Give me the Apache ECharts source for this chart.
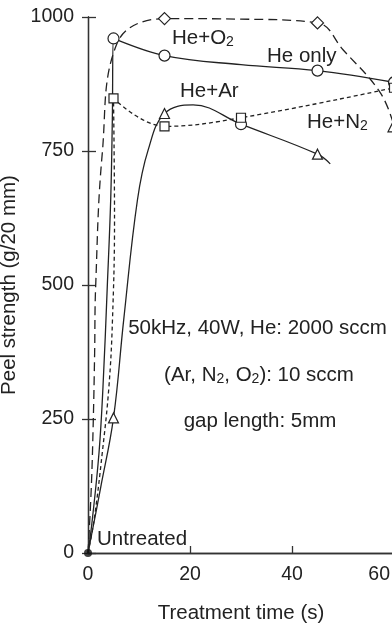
<!DOCTYPE html>
<html>
<head>
<meta charset="utf-8">
<script src="https://cdn.jsdelivr.net/npm/echarts@6/dist/echarts.min.js"></script>
<style>
html,body{margin:0;padding:0;background:#fff;}
#c{width:392px;height:628px;}
</style>
</head>
<body>
<div id="c"></div>
<script>
// ---- data (time s, peel strength g/20mm) ----
const timeTicks = [0, 20, 40, 60];
const peelTicks = [0, 250, 500, 750, 1000];

// curve points
const heOnly = [[0,0],[0.84,62],[2.16,187],[2.94,310],[3.78,497],[4.45,659],[4.77,808],[5,960],[15,928],[30,911],[45,900],[60,878]];
const heOnlyMarked = [5, 15, 45, 60];

const heAr = [[0,0],[2.5,123],[5,252],[7,435],[9.7,659],[11.8,752],[15,820],[20.6,836],[30,800],[45,744],[47.5,726]];
const heArMarked = [5, 15, 30, 45];
const heArCircleAt = [30];

const heN2 = [[0,0],[1.2,62],[2.8,187],[4.1,310],[4.8,435],[5.2,621],[5,848],[15,796],[30,812],[60,868]];
const heN2Marked = [5, 15, 30, 60];

const heO2 = [[0,0],[0.65,123],[1.04,249],[1.3,373],[1.5,497],[2.8,746],[5.7,951],[15,997],[30,996],[45,989],[50,939],[57.3,859],[60,797]];
const heO2Marked = [15, 45, 60];
const heO2TriangleAt = [60];

const untreated = [[0, 0]];

const seriesLabels = ['He+O{s|2}', 'He only', 'He+Ar', 'He+N{s|2}'];
const conditionLines = ['50kHz, 40W, He: 2000 sccm', '(Ar, N{s|2}, O{s|2}): 10 sccm', 'gap length: 5mm'];
const untreatedLabel = 'Untreated';
const xName = 'Treatment time (s)';
const yName = 'Peel strength (g/20 mm)';

// ---- chart ----
const INK = '#222';
const FONT = '"Liberation Sans", Arial, Helvetica, sans-serif';
const TXT = 20.5;

function items(points, marked, sym, size, overrides) {
  return points.map((p, i) => {
    const isMarked = i > 0 && marked.indexOf(p[0]) >= 0 &&
      !(p[0] === 5 && points[i + 1] && points[i + 1][0] === 5);
    if (!isMarked) return { value: p, symbol: 'none', symbolSize: 0 };
    let s = sym;
    if (overrides && overrides.at.indexOf(p[0]) >= 0) s = overrides.sym;
    return { value: p, symbol: s, symbolSize: s === 'circle' ? 11 : size };
  });
}

function lineSeries(name, data, type) {
  return {
    name, type: 'line', data, smooth: 0.4,
    symbol: 'none', showSymbol: true, showAllSymbol: true,
    lineStyle: { color: INK, width: 1.3, type: type },
    itemStyle: { color: '#fff', borderColor: INK, borderWidth: 1.2 },
    z: 3, animation: false
  };
}

const rich = {
  s: { fontSize: 14, fontFamily: FONT, fill: INK, padding: [8, 0, 0, 0] }
};
function txt(text, x, y, align) {
  return {
    type: 'text', x, y, z: 10,
    style: {
      text, x: 0, y: 0, fill: INK, font: TXT + 'px ' + FONT,
      align: align || 'left', verticalAlign: 'middle', rich
    }
  };
}

const chart = echarts.init(document.getElementById('c'), null, { renderer: 'canvas' });
const axisLineStyle = { color: '#333', width: 1.3 };
chart.setOption({
  animation: false,
  backgroundColor: '#fff',
  grid: { left: 88, top: 17, width: 306, height: 536, containLabel: false, outerBoundsMode: 'none' },
  xAxis: [{
    type: 'value', min: timeTicks[0], max: timeTicks[timeTicks.length - 1], interval: 20,
    position: 'bottom',
    axisLine: { show: true, lineStyle: axisLineStyle },
    axisTick: { show: true, inside: true, length: 7, lineStyle: axisLineStyle },
    splitLine: { show: false },
    axisLabel: {
      margin: 12, fontSize: 19.5, color: INK, fontFamily: FONT,
      alignMaxLabel: 'right',
      formatter: v => v === 60 ? '{r|60}' : String(v),
      rich: { r: { fontSize: 19.5, fontFamily: FONT, color: INK, padding: [0, 4, 0, 0] } }
    },
    name: xName, nameLocation: 'middle', nameGap: 50,
    nameTextStyle: { fontSize: TXT, color: INK, fontFamily: FONT }
  }, {
    type: 'value', min: 0, max: 60, interval: 20, position: 'top',
    axisLine: { show: true, lineStyle: axisLineStyle },
    axisTick: { show: false }, axisLabel: { show: false }, splitLine: { show: false }
  }],
  yAxis: [{
    type: 'value', min: peelTicks[0], max: peelTicks[peelTicks.length - 1], interval: 250,
    position: 'left',
    axisLine: { show: true, lineStyle: axisLineStyle },
    axisTick: { show: true, inside: true, length: 8, lineStyle: axisLineStyle },
    splitLine: { show: false },
    axisLabel: { margin: 14, fontSize: 19.5, color: INK, fontFamily: FONT, formatter: v => String(v) },
    name: yName, nameLocation: 'middle', nameGap: 60, nameRotate: 90,
    nameTextStyle: { fontSize: TXT, color: INK, fontFamily: FONT }
  }, {
    type: 'value', min: 0, max: 1000, interval: 250, position: 'right',
    axisLine: { show: true, lineStyle: axisLineStyle },
    axisTick: { show: true, inside: true, length: 6, lineStyle: axisLineStyle },
    axisLabel: { show: false }, splitLine: { show: false }
  }],
  series: [
    lineSeries('He only', items(heOnly, heOnlyMarked, 'circle', 11), 'solid'),
    lineSeries('He+Ar', items(heAr, heArMarked, 'triangle', 10, { at: heArCircleAt, sym: 'circle' }), 'solid'),
    lineSeries('He+N2', items(heN2, heN2Marked, 'rect', 9), [4, 3]),
    lineSeries('He+O2', items(heO2, heO2Marked, 'diamond', 12, { at: heO2TriangleAt, sym: 'triangle' }), [9, 5]),
    {
      type: 'scatter', data: untreated, symbol: 'circle', symbolSize: 8,
      itemStyle: { color: '#111' }, z: 5, animation: false
    }
  ],
  graphic: [
    txt(seriesLabels[0], 172, 38),
    txt(seriesLabels[1], 267, 56),
    txt(seriesLabels[2], 180, 91),
    txt(seriesLabels[3], 307, 122),
    txt(conditionLines[0], 257.5, 328, 'center'),
    txt(conditionLines[1], 259, 375, 'center'),
    txt(conditionLines[2], 260, 421, 'center'),
    txt(untreatedLabel, 97, 539)
  ]
});
</script>
</body>
</html>
